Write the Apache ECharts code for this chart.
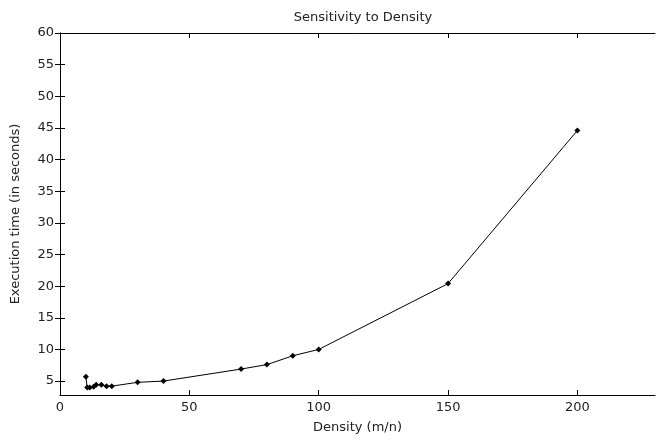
<!DOCTYPE html>
<html>
<head>
<meta charset="utf-8">
<script src="https://cdn.jsdelivr.net/npm/echarts@6/dist/echarts.min.js"></script>
<style>html,body{margin:0;padding:0;background:#fff}#c{width:656px;height:441px}</style>
</head>
<body>
<div id="c"></div>
<script>
var density = [10, 10.5, 11.5, 13, 14, 16, 18, 20, 30, 40, 70, 80, 90, 100, 150, 200];
var execTime = [5.7, 4.0, 4.0, 4.1, 4.4, 4.4, 4.2, 4.2, 4.8, 5.0, 6.9, 7.6, 9.0, 10.0, 20.4, 44.6];
var yTicks = [5, 10, 15, 20, 25, 30, 35, 40, 45, 50, 55, 60];
var xTicks = [0, 50, 100, 150, 200];

var pts = density.map(function (d, i) { return [d, execTime[i]]; });
var font = 'DejaVu Sans, Verdana, sans-serif';
var axisLine = { show: true, lineStyle: { color: '#000', width: 1 } };

var chart = echarts.init(document.getElementById('c'), null, { renderer: 'canvas' });
chart.setOption({
  animation: false,
  backgroundColor: '#fff',
  title: {
    text: 'Sensitivity to Density',
    left: 358, top: 6, textAlign: 'center',
    textStyle: { fontFamily: font, fontSize: 13, fontWeight: 'normal', color: '#222' }
  },
  grid: { left: 60, top: 33, right: 1, bottom: 46, containLabel: false },
  xAxis: [{
    type: 'value', min: 0, max: 230,
    name: 'Density (m/n)', nameLocation: 'middle', nameGap: 26,
    nameTextStyle: { fontFamily: font, fontSize: 13, color: '#222' },
    axisLine: axisLine,
    axisTick: { show: true, inside: true, length: 5, lineStyle: { color: '#000' }, customValues: xTicks },
    splitLine: { show: false },
    axisLabel: { fontFamily: font, fontSize: 13, color: '#222', margin: 6, customValues: xTicks }
  }, {
    type: 'value', min: 0, max: 230, position: 'top',
    axisLine: axisLine,
    axisTick: { show: true, inside: true, length: 5, lineStyle: { color: '#000' }, customValues: xTicks },
    axisLabel: { show: false }, splitLine: { show: false }
  }],
  yAxis: [{
    type: 'value', min: 2.8, max: 60,
    name: 'Execution time (in seconds)', nameLocation: 'middle', nameGap: 38,
    nameTextStyle: { fontFamily: font, fontSize: 13, color: '#222' },
    axisLine: axisLine,
    axisTick: { show: true, inside: true, length: 5, lineStyle: { color: '#000' }, customValues: yTicks },
    splitLine: { show: false },
    axisLabel: { fontFamily: font, fontSize: 13, color: '#222', margin: 6, customValues: yTicks }
  }, {
    type: 'value', min: 2.8, max: 60, position: 'right',
    axisLine: axisLine,
    axisTick: { show: true, inside: true, length: 5, lineStyle: { color: '#000' }, customValues: yTicks },
    axisLabel: { show: false }, splitLine: { show: false }
  }],
  series: [{
    type: 'line', data: pts, xAxisIndex: 0, yAxisIndex: 0,
    symbol: 'diamond', symbolSize: 6,
    lineStyle: { color: '#000', width: 1 },
    itemStyle: { color: '#000' }
  }]
});
</script>
</body>
</html>
